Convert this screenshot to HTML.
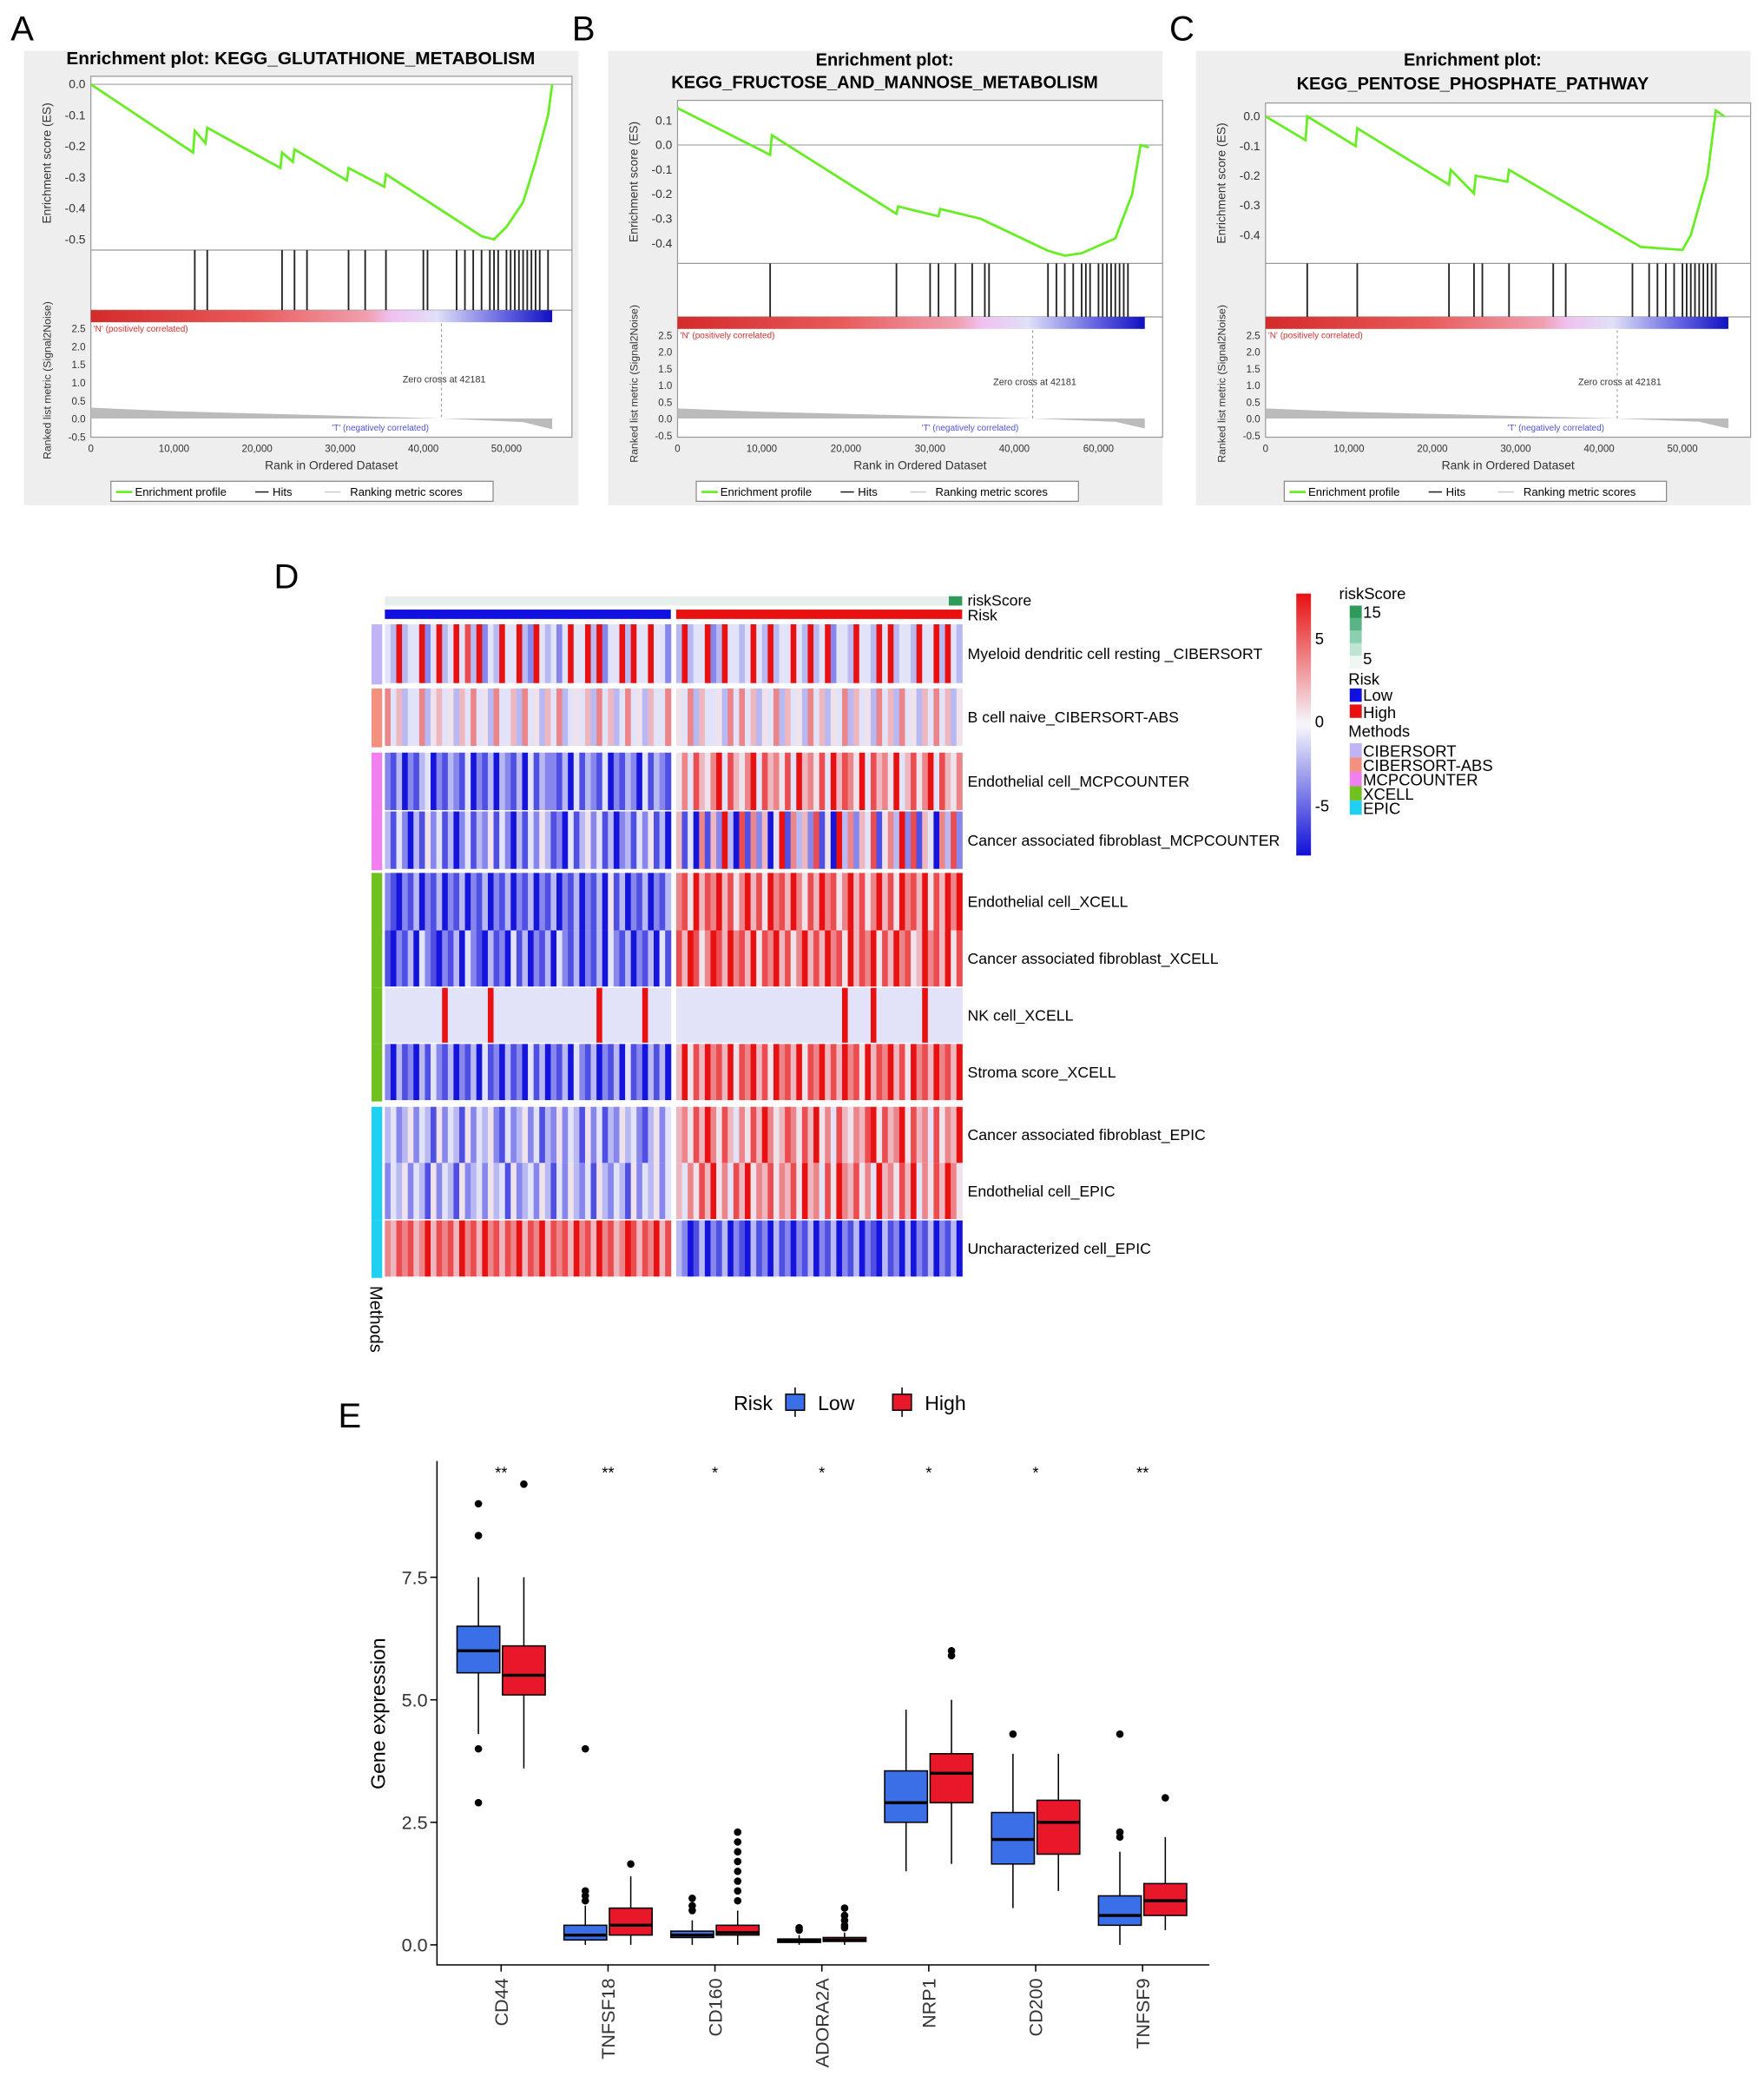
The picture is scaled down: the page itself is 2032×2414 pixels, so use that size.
<!DOCTYPE html>
<html><head><meta charset="utf-8"><style>
html,body{margin:0;padding:0;background:#fff}
svg{display:block;font-family:"Liberation Sans",Arial,sans-serif}
</style></head><body>
<svg id="fig" xmlns="http://www.w3.org/2000/svg" width="2032" height="2414" viewBox="0 0 1320 1568"></svg>
<script>
// ---------- GSEA data ----------
const esA = [[0,0],[12.3,-0.22],[12.5,-0.15],[13.8,-0.19],[14,-0.14],[22.8,-0.27],[23,-0.22],[24.3,-0.25],[24.5,-0.21],[30.8,-0.31],[31,-0.27],[35.3,-0.33],[35.5,-0.29],[47,-0.49],[48.5,-0.5],[50,-0.46],[52,-0.38],[53.5,-0.25],[55,-0.1],[55.5,0]];
const hitsA = [12.5,14,23,24.5,26,31,33,35.5,40,40.5,44,45,46,47,48,48.5,49,50,50.5,51,51.5,52,52.5,53,53.5,54,55];
const esB = [[0,0.15],[11,-0.04],[11.2,0.04],[26,-0.28],[26.2,-0.25],[31,-0.29],[31.2,-0.26],[36,-0.3],[44,-0.43],[46,-0.45],[48,-0.44],[52,-0.38],[54,-0.2],[55,0.0],[56,-0.01]];
const hitsB = [11,26,30,31,33,35,36.5,37,44,45,46,47,48,48.5,49,50,50.5,51,51.5,52,52.5,53,53.5];
const esC = [[0,0],[4.8,-0.08],[5,0.0],[10.8,-0.1],[11,-0.04],[22,-0.23],[22.2,-0.18],[25,-0.26],[25.2,-0.2],[29,-0.22],[29.2,-0.18],[45,-0.44],[50,-0.45],[51,-0.4],[53,-0.2],[54,0.02],[55,0]];
const hitsC = [5,11,22,25,26,29.2,34.5,36,44,46,47,48,49,50,50.5,51,51.5,52,52.5,53,53.5,54];
const rankTicks = ["0","10,000","20,000","30,000","40,000","50,000"];
const rankTicksB = ["0","10,000","20,000","30,000","40,000","60,000"];
const metricTicks = [2.5,2.0,1.5,1.0,0.5,0.0,-0.5];

// ---------- heatmap data ----------
const rowNames = ["Myeloid dendritic cell resting _CIBERSORT","B cell naive_CIBERSORT-ABS","Endothelial cell_MCPCOUNTER","Cancer associated fibroblast_MCPCOUNTER","Endothelial cell_XCELL","Cancer associated fibroblast_XCELL","NK cell_XCELL","Stroma score_XCELL","Cancer associated fibroblast_EPIC","Endothelial cell_EPIC","Uncharacterized cell_EPIC"];
const rowMethods = [0,1,2,2,3,3,3,3,4,4,4];
const rowValues = [
"4393449249 3494839243 9449329434 2494493924 4939449442 3934492394 4349439344 9439349244 3944394934 4394493943",
"7463447356 4536474537 4463745364 7345463746 3474536447 5473644537 4746354736 4537463547 3645374637 4536474635",
"2130213402 1321402130 3213041322 1304132140 2132041321 5748657948 6579486758 4967584968 7594867594 6857948657",
"3142031524 1302413251 4203142531 2041352413 0231425130 6140716293 0817260491 7362815093 7264815739 2816407382",
"2102130213 0213021302 1302130213 0213021305 1302130213 7859687968 5796859786 9758697857 9685796859 7869586979",
"1021304210 2130421031 2041302130 4213021304 2130213041 8698579869 7869587968 5796869785 9687958697 8569786958",
"4444444444 9444444494 4444444444 4444444944 4444494444 4444444444 4444444444 4444444449 4444944444 4449444444",
"2031203142 1302130412 0312041302 1304213021 3041203130 6958697869 5879685978 6958796869 7859687968 5978697869",
"3423524315 2431524352 1423524132 5243152413 2534213524 6758697586 4758697568 7586957486 5768958679 5867485769",
"2435243152 4315234253 4152342531 4253241532 4315243524 6475869574 8695768576 8596748597 6857496758 6947586975",
"7687867968 7869786978 6879687968 7869786978 6798687968 3201302130 2103120312 0213021302 1302103120 3021302130"
];
const methodNames = ["CIBERSORT","CIBERSORT-ABS","MCPCOUNTER","XCELL","EPIC"];

// ---------- boxplot data ----------
const genes = ["CD44","TNFSF18","CD160","ADORA2A","NRP1","CD200","TNFSF9"];
const sig = ["**","**","*","*","*","*","**"];
const lowQ1 = [5.55,0.1,0.15,0.05,2.5,1.65,0.4];
const lowMed = [6.0,0.2,0.2,0.08,2.9,2.15,0.6];
const lowQ3 = [6.5,0.4,0.28,0.12,3.55,2.7,1.0];
const lowMin = [4.3,0,0,0,1.5,0.75,0];
const lowMax = [7.5,0.8,0.5,0.2,4.8,3.9,1.9];
const lowOut = [[9.0,8.35,4.0,2.9],[4.0,1.1,1.0,0.9],[0.95,0.8,0.7],[0.35,0.3],[],[4.3],[4.3,2.3,2.2]];
const highQ1 = [5.1,0.2,0.2,0.07,2.9,1.85,0.6];
const highMed = [5.5,0.4,0.25,0.1,3.5,2.5,0.9];
const highQ3 = [6.1,0.75,0.4,0.15,3.9,2.95,1.25];
const highMin = [3.6,0,0,0,1.65,1.1,0.3];
const highMax = [7.5,1.4,0.7,0.25,5.0,3.9,2.2];
const highOut = [[9.4],[1.65],[2.3,2.1,1.9,1.7,1.5,1.3,1.1,0.9],[0.75,0.6,0.5,0.4,0.35],[6.0,5.9],[],[3.0]];
const yTicks = [0,2.5,5.0,7.5];

const NS="http://www.w3.org/2000/svg";
const svg=document.getElementById('fig');
function mk(tag,attrs,parent,text){const e=document.createElementNS(NS,tag);for(const k in attrs)e.setAttribute(k,attrs[k]);if(text!==undefined)e.textContent=text;(parent||svg).appendChild(e);return e;}

[["A",8,30],["B",428,30],["C",875,30],["D",205,440],["E",253,1068]].forEach(p=>{
  const t=mk('text',{x:p[1],y:p[2],'font-size':26},svg,p[0]);
  
  
});

function gsea(cfg){
  const g=mk('g',{});
  
  
  const bg=mk('rect',{x:cfg.bx,y:38,width:415,height:340,fill:'#eeeeee'},g);
  
  
  cfg.title.forEach((t,i)=>{
    const tt=mk('text',{x:cfg.bx+207,y:cfg.ty[i],'font-size':cfg.tfs,'font-weight':'bold','text-anchor':'middle'},g,t);
    
    
  });
  const X=k=>cfg.x0+k*cfg.px;
  const Y=v=>cfg.es0-v*cfg.esu;
  const plot=mk('rect',{x:cfg.x0,y:cfg.esT,width:cfg.x1-cfg.x0,height:327-cfg.esT,fill:'#fff',stroke:'#999','stroke-width':0.8},g);
  
  
  mk('line',{x1:cfg.x0,x2:cfg.x1,y1:cfg.esB,y2:cfg.esB,stroke:'#999','stroke-width':0.8},g);
  mk('line',{x1:cfg.x0,x2:cfg.x1,y1:cfg.barT,y2:cfg.barT,stroke:'#999','stroke-width':0.8},g);
  mk('line',{x1:cfg.x0,x2:cfg.x1,y1:Y(0),y2:Y(0),stroke:'#aaa','stroke-width':0.8},g);
  cfg.esTicks.forEach(v=>{
    const t=mk('text',{x:cfg.x0-4,y:Y(v)+3,'font-size':9,'text-anchor':'end',fill:'#333'},g,v.toFixed(1));
    
    
  });
  const yl=mk('text',{transform:`translate(${cfg.x0-30},${(cfg.esT+cfg.esB)/2}) rotate(-90)`,'font-size':9,'text-anchor':'middle',fill:'#333'},g,'Enrichment score (ES)');
  
  
  cfg.hits.forEach(h=>{
    const l=mk('line',{x1:X(h),x2:X(h),y1:cfg.esB,y2:cfg.barT,stroke:'#222','stroke-width':1.2},g);
    
    
  });
  const gid='grad'+cfg.name;
  const defs=mk('defs',{},g);
  const lg=mk('linearGradient',{id:gid,x1:0,x2:1,y1:0,y2:1*0},defs);
  [[0,'#d42a2a'],[0.35,'#e85a5a'],[0.6,'#f0a0b0'],[0.65,'#f0c0f0'],[0.75,'#e0e0f8'],[0.9,'#6060e0'],[1,'#1010c0']].forEach(s=>mk('stop',{offset:s[0],'stop-color':s[1]},lg));
  const cb=mk('rect',{x:cfg.x0,y:cfg.barT,width:X(55.5)-cfg.x0,height:9,fill:`url(#${gid})`},g);
  
  
  const pc=mk('text',{x:cfg.x0+2,y:cfg.barT+16,'font-size':6.5,fill:'#d03030'},g,"'N' (positively correlated)");
  
  
  const M=v=>cfg.m0-v*cfg.mu;
  metricTicks.forEach(v=>{
    const t=mk('text',{x:cfg.x0-4,y:M(v)+3,'font-size':7.5,'text-anchor':'end',fill:'#333'},g,v.toFixed(1));
    
    
  });
  const ml=mk('text',{transform:`translate(${cfg.x0-30},${(cfg.barT+327)/2+5}) rotate(-90)`,'font-size':8,'text-anchor':'middle',fill:'#333'},g,'Ranked list metric (Signal2Noise)');
  
  
  const area=mk('path',{d:`M${X(0)},${M(0)} L${X(0)},${M(0.3)} L${X(10)},${M(0.2)} L${X(42.2)},${M(0)} L${X(52)},${M(-0.1)} L${X(55.5)},${M(-0.3)} L${X(55.5)},${M(0)} Z`,fill:'#bbbbbb'},g);
  
  
  mk('line',{x1:X(42.181),x2:X(42.181),y1:cfg.barT+10,y2:M(0),stroke:'#999','stroke-dasharray':'2,2','stroke-width':0.7},g);
  const zc=mk('text',{x:X(37.5),y:M(1.0),'font-size':7,fill:'#333'},g,'Zero cross at 42181');
  
  
  const nc=mk('text',{x:X(29),y:322,'font-size':6.5,fill:'#5050e0'},g,"'T' (negatively correlated)");
  
  
  const curve=mk('polyline',{points:cfg.es.map(p=>X(p[0])+','+Y(p[1])).join(' '),fill:'none',stroke:'#66ee22','stroke-width':1.8},g);
  
  
  cfg.xt.forEach((t,i)=>{
    const tx=mk('text',{x:X(i*10),y:338,'font-size':7.5,'text-anchor':'middle',fill:'#333'},g,t);
    
    
  });
  const xl=mk('text',{x:(cfg.x0+cfg.x1)/2,y:351,'font-size':9,'text-anchor':'middle',fill:'#333'},g,'Rank in Ordered Dataset');
  
  
  const lgd=mk('g',{},g);
  
  
  mk('rect',{x:cfg.lx,y:360,width:286,height:15,fill:'#fff',stroke:'#888','stroke-width':0.8},lgd);
  mk('line',{x1:cfg.lx+4,x2:cfg.lx+16,y1:368,y2:368,stroke:'#66ee22','stroke-width':1.8},lgd);
  mk('text',{x:cfg.lx+18,y:371,'font-size':8.5},lgd,'Enrichment profile');
  mk('line',{x1:cfg.lx+108,x2:cfg.lx+118,y1:368,y2:368,stroke:'#222','stroke-width':1},lgd);
  mk('text',{x:cfg.lx+121,y:371,'font-size':8.5},lgd,'Hits');
  mk('line',{x1:cfg.lx+160,x2:cfg.lx+172,y1:368,y2:368,stroke:'#ccc','stroke-width':1},lgd);
  mk('text',{x:cfg.lx+179,y:371,'font-size':8.5},lgd,'Ranking metric scores');
}
gsea({name:'gsea-glutathione',bx:18,title:['Enrichment plot: KEGG_GLUTATHIONE_METABOLISM'],tfs:13.5,ty:[48],x0:68,x1:428,px:6.22,esT:57,esB:187,es0:63,esu:232,barT:232,m0:313,mu:27,es:esA,hits:hitsA,esTicks:[0,-0.1,-0.2,-0.3,-0.4,-0.5],xt:rankTicks,lx:83});
gsea({name:'gsea-fructose-mannose',bx:455,title:['Enrichment plot:','KEGG_FRUCTOSE_AND_MANNOSE_METABOLISM'],tfs:13,ty:[49,66],x0:507,x1:870,px:6.3,esT:75,esB:197,es0:108.4,esu:184,barT:237,m0:313,mu:25,es:esB,hits:hitsB,esTicks:[0.1,0,-0.1,-0.2,-0.3,-0.4],xt:rankTicksB,lx:521});
gsea({name:'gsea-pentose-phosphate',bx:895,title:['Enrichment plot:','KEGG_PENTOSE_PHOSPHATE_PATHWAY'],tfs:13,ty:[49,67],x0:947,x1:1310,px:6.24,esT:77,esB:197,es0:87,esu:222,barT:237,m0:313,mu:25,es:esC,hits:hitsC,esTicks:[0,-0.1,-0.2,-0.3,-0.4],xt:rankTicks,lx:961});

// ---------- heatmap ----------
const methodColors=['#c0b4f4','#f49080','#f080f0','#70c020','#20d0f0'];
function heatColor(d){
  const v=(d-4.5)/4.5;
  const w=[240,240,250],b=[20,20,220],r=[232,16,16];
  const t=Math.pow(Math.min(1,Math.abs(v)),1.25),c=v<0?b:r;
  return `rgb(${w.map((x,i)=>Math.round(x+(c[i]-x)*t)).join(',')})`;
}
const rowY=[[467,511],[515,558],[563,606],[607,650],[653,696],[696,738],[739,780],[781,823],[828,870],[870,912],[913,955]];
const hm=mk('g',{});


const colX=i=>i<50?288+i*(214/50):506+(i-50)*(214/50);
const cw=214/50;
const rsb=mk('rect',{x:288,y:446,width:432,height:7,fill:'#e6efec'},hm);


mk('rect',{x:710,y:446,width:10,height:7,fill:'#2e9a5a'},hm);
const lowBar=mk('rect',{x:288,y:456,width:214,height:7,fill:'#1010e0'},hm);


const highBar=mk('rect',{x:506,y:456,width:214,height:7,fill:'#e81010'},hm);


mk('text',{x:724,y:453,'font-size':11.5},hm,'riskScore');
mk('text',{x:724,y:464,'font-size':11.5},hm,'Risk');
rowValues.forEach((s,r)=>{
  const vals=s.replace(/ /g,'');
  const [y0,y1]=rowY[r];
  for(let i=0;i<vals.length;i++){
    const c=mk('rect',{x:colX(i),y:y0,width:cw+0.3,height:y1-y0,fill:heatColor(+vals[i])},hm);
    
    
  }
  const m=mk('rect',{x:278,y:y0,width:8,height:y1-y0+1,fill:methodColors[rowMethods[r]]},hm);
  
  
  const t=mk('text',{x:724,y:(y0+y1)/2+4,'font-size':11.5},hm,rowNames[r]);
  
  
});
const mlab=mk('text',{transform:'translate(277,962) rotate(90)','font-size':13},hm,'Methods');


const cbd=mk('defs',{},hm);
const cbg=mk('linearGradient',{id:'hmcb',x1:0,x2:0,y1:0,y2:1},cbd);
[[0,'#e81010'],[0.49,'#f4f4fa'],[0.51,'#f4f4fa'],[1,'#1010d8']].forEach(s=>mk('stop',{offset:s[0],'stop-color':s[1]},cbg));
const cbar=mk('rect',{x:970,y:444,width:11,height:196,fill:'url(#hmcb)'},hm);


[['5',482],['0',544],['-5',607]].forEach(p=>{
  const t=mk('text',{x:984,y:p[1],'font-size':12},hm,p[0]);
  
  
});
const leg=mk('g',{},hm);


mk('text',{x:1002,y:448,'font-size':12},leg,'riskScore');
['#2e9a5a','#5bb488','#8ccfb0','#bfe4d4','#eef6f2'].forEach((c,i)=>mk('rect',{x:1010,y:453+i*9.4,width:9,height:9.4,fill:c},leg));
mk('text',{x:1020,y:462,'font-size':12},leg,'15');
mk('text',{x:1020,y:497,'font-size':12},leg,'5');
mk('text',{x:1009,y:512,'font-size':12},leg,'Risk');
mk('rect',{x:1010,y:515,width:9,height:10,fill:'#1010e0'},leg);
mk('text',{x:1020,y:524,'font-size':12},leg,'Low');
mk('rect',{x:1010,y:527,width:9,height:10,fill:'#e81010'},leg);
mk('text',{x:1020,y:537,'font-size':12},leg,'High');
mk('text',{x:1009,y:551,'font-size':12},leg,'Methods');
methodNames.forEach((n,i)=>{
  mk('rect',{x:1010,y:556+i*10.7,width:9,height:10.7,fill:methodColors[i]},leg);
  const t=mk('text',{x:1020,y:566+i*10.7,'font-size':12},leg,n);
  
  
});

// ---------- boxplot ----------
const bp=mk('g',{});


const BY=v=>1455-v*36.67;
const BX=i=>375+i*80;
const ax=mk('path',{d:'M327,1093 L327,1470 L905,1470',fill:'none',stroke:'#000','stroke-width':1},bp);


yTicks.forEach(v=>{
  mk('line',{x1:322,x2:327,y1:BY(v),y2:BY(v),stroke:'#000'},bp);
  const t=mk('text',{x:320,y:BY(v)+5,'font-size':14,'text-anchor':'end',fill:'#333'},bp,v.toFixed(1));
  
  
});
const yt=mk('text',{transform:'translate(288,1282) rotate(-90)','font-size':15,'text-anchor':'middle'},bp,'Gene expression');


function drawBox(cx,q1,med,q3,lo,hi,outs,fill,name){
  const g=mk('g',{},bp);
  
  
  mk('line',{x1:cx,x2:cx,y1:BY(hi),y2:BY(q3),stroke:'#000','stroke-width':1},g);
  mk('line',{x1:cx,x2:cx,y1:BY(q1),y2:BY(lo),stroke:'#000','stroke-width':1},g);
  mk('rect',{x:cx-16,y:BY(q3),width:32,height:Math.max(1,BY(q1)-BY(q3)),fill:fill,stroke:'#000','stroke-width':1},g);
  mk('line',{x1:cx-16,x2:cx+16,y1:BY(med),y2:BY(med),stroke:'#000','stroke-width':2.2},g);
  outs.forEach(o=>mk('circle',{cx:cx,cy:BY(o),r:2.8,fill:'#000'},g));
}
genes.forEach((gname,i)=>{
  drawBox(BX(i)-17,lowQ1[i],lowMed[i],lowQ3[i],lowMin[i],lowMax[i],lowOut[i],'#3a6fe8','box-low-'+gname);
  drawBox(BX(i)+17,highQ1[i],highMed[i],highQ3[i],highMin[i],highMax[i],highOut[i],'#e8182a','box-high-'+gname);
  mk('line',{x1:BX(i),x2:BX(i),y1:1470,y2:1475,stroke:'#000'},bp);
  const t=mk('text',{transform:`translate(${BX(i)+5},1480) rotate(-90)`,'font-size':14,'text-anchor':'end',fill:'#333'},bp,gname);
  
  
  const s=mk('text',{x:BX(i),y:1106,'font-size':12,'text-anchor':'middle'},bp,sig[i]);
  
  
});
const bl=mk('g',{},bp);


mk('text',{x:549,y:1055,'font-size':15},bl,'Risk');
mk('line',{x1:595,x2:595,y1:1038,y2:1060,stroke:'#000'},bl);
mk('rect',{x:588,y:1043,width:14,height:12,fill:'#3a6fe8',stroke:'#000'},bl);
mk('text',{x:612,y:1055,'font-size':15},bl,'Low');
mk('line',{x1:675,x2:675,y1:1038,y2:1060,stroke:'#000'},bl);
mk('rect',{x:668,y:1043,width:14,height:12,fill:'#e8182a',stroke:'#000'},bl);
mk('text',{x:692,y:1055,'font-size':15},bl,'High');
</script>
</body></html>
